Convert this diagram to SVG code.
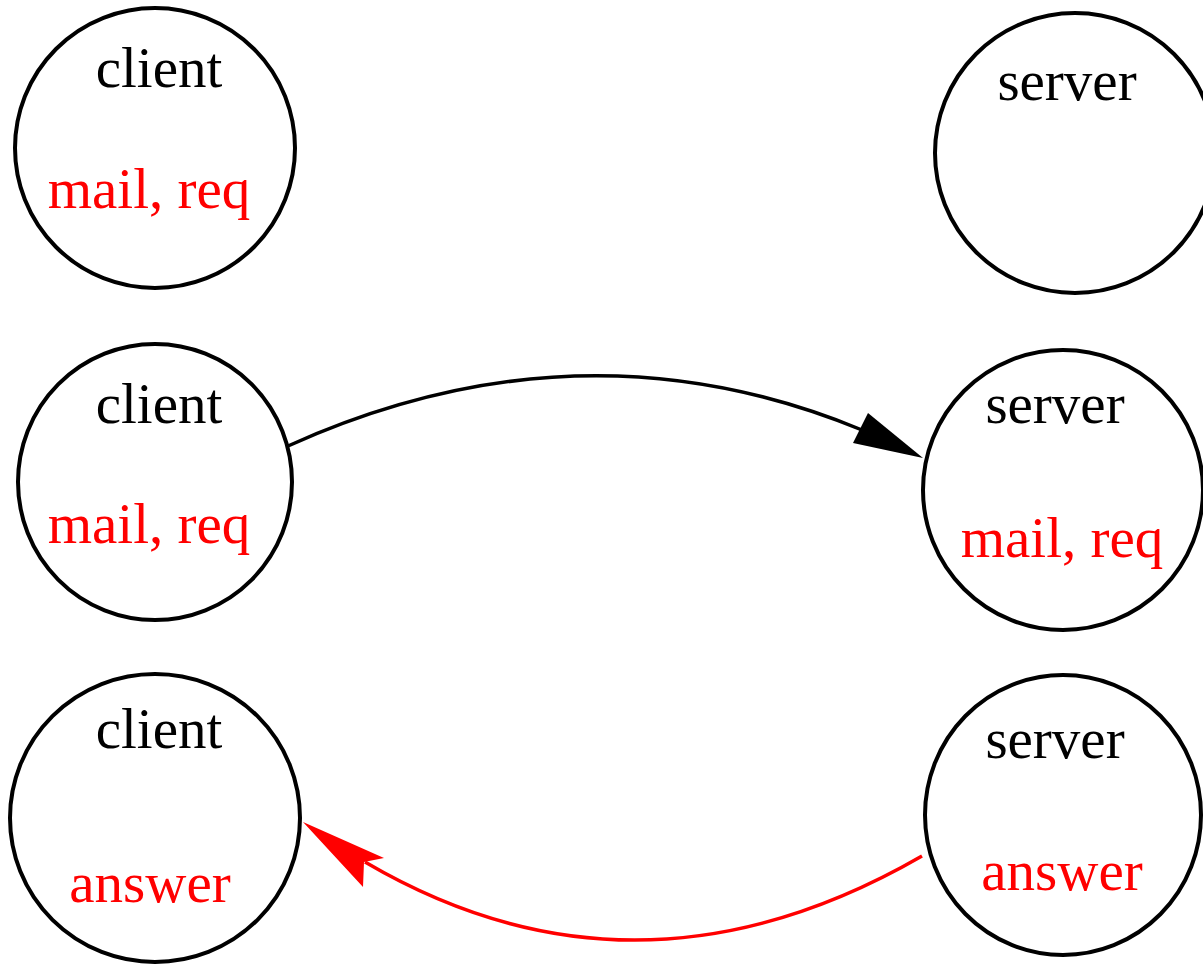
<svg xmlns="http://www.w3.org/2000/svg" width="1203" height="964" viewBox="0 0 1203 964">
<style>
.n{fill:#fff;stroke:#000;stroke-width:4}
.t{font-family:"Liberation Serif","Times New Roman",serif;font-size:57px;text-anchor:middle;fill:#000}
.r{fill:#f00}
.e{fill:none;stroke-width:3.5}
</style>
<rect width="1203" height="964" fill="#fff"/>
<g id="client1"><ellipse class="n" cx="155" cy="148" rx="140" ry="140"/><text class="t" x="159" y="87">client</text><text class="t r" x="149" y="208">mail, req</text></g>
<g id="server1"><ellipse class="n" cx="1075" cy="153" rx="140" ry="140"/><text class="t" x="1067" y="100">server</text></g>
<g id="client2"><ellipse class="n" cx="155" cy="482" rx="137" ry="138"/><text class="t" x="159" y="423">client</text><text class="t r" x="149" y="543">mail, req</text></g>
<g id="server2"><ellipse class="n" cx="1063" cy="490" rx="140" ry="140"/><text class="t" x="1055" y="423">server</text><text class="t r" x="1062" y="557">mail, req</text></g>
<g id="client3"><ellipse class="n" cx="155" cy="818" rx="145" ry="144"/><text class="t" x="159" y="748">client</text><text class="t r" x="150" y="902">answer</text></g>
<g id="server3"><ellipse class="n" cx="1063" cy="815" rx="138" ry="140"/><text class="t" x="1055" y="758">server</text><text class="t r" x="1062" y="890">answer</text></g>
<g id="connectors">
<path class="e" stroke="#000" d="M288,446 Q581,314 862,430"/>
<polygon fill="#000" points="923,458 868,413 853,443"/>
<path class="e" stroke="#f00" d="M922,856 Q636,1021 365,862"/>
<polygon fill="#f00" points="303,822 384,858 364,862 363,887"/>
</g>
</svg>
